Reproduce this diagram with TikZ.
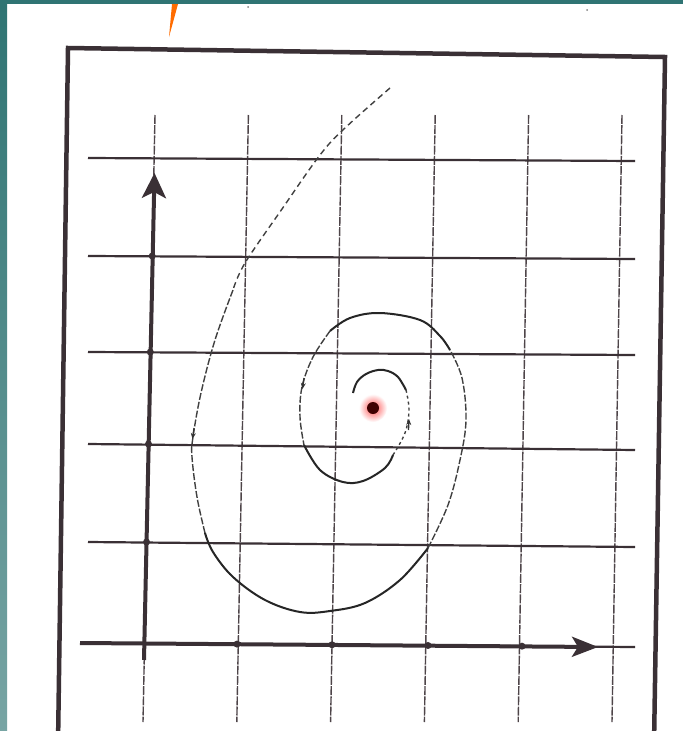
\documentclass[tikz,border=0pt]{standalone}
\usetikzlibrary{arrows.meta}
\definecolor{scanteal}{HTML}{2F7473}
\definecolor{ink}{HTML}{3A3035}
\begin{document}
\begin{tikzpicture}[x=1pt, y=-1pt,
    gridv/.style={ink!90, line width=1.4pt, dash pattern=on 9pt off 1.2pt},
    gridh/.style={ink, line width=2.2pt},
    axis/.style={ink, line width=4pt},
    orbit/.style={black!85, line width=2pt},
    faint/.style={black!75, line width=1.4pt, dash pattern=on 7pt off 2pt},
    tick/.style={circle, fill=ink, inner sep=0pt, minimum size=7pt}]
\useasboundingbox (0,0) rectangle (683,731);
\clip (0,0) rectangle (683,731);
\fill[white] (0,0) rectangle (683,731);
\fill[scanteal] (0,0) rectangle (683,4);
\shade[top color=scanteal, bottom color=scanteal!65!white] (0,4) rectangle (7,731);
\fill[orange!85!red] (172,4) -- (178,4) -- (169,37) -- cycle;
\fill[black!50] (248,7) circle (1pt) (587,10) circle (1pt);
% frame
\draw[ink, line width=4.5pt] (58,745) -- (68,48) -- (665,57) -- (654,745);
% grid
\foreach \i in {0,...,5}
  \draw[gridv] ({155+93.4*\i},115) -- ({143+93.8*\i},722);
\foreach \yl/\yr in {158/161, 256/259, 352/355, 444/450, 542/547, 643/647}
  \draw[gridh] (88,\yl) -- (635,\yr);
% axes
\draw[axis, -{Stealth[length=25pt, width=24pt, inset=6pt]}] (144,660) -- (154.5,173);
\draw[axis, -{Stealth[length=26pt, width=20pt, inset=6pt]}] (80,643) -- (598,647);
\foreach \y [count=\k] in {256,352,444,542}
  \node[tick] (ty\k) at ({155-12*(\y-115)/607},\y) {};
\foreach \x [count=\k] in {237,332,428,522}
  \node[tick] (tx\k) at (\x,{643+4*(\x-88)/547}) {};
% spiral
\draw[faint, dash pattern=on 6pt off 4pt] plot[smooth, tension=0.6] coordinates {(390,88) (345,128) (320,155) (282,209) (245,263) (233,290)};
\draw[faint] plot[smooth, tension=0.6] coordinates {(233,290) (215,340) (201,393) (193,437) (192,457) (197,497) (205,533)};
\draw[orbit] plot[smooth, tension=0.6] coordinates {(205,533) (213,552) (233,577) (265,600) (300,612) (330,611) (365,603) (400,580) (428,548)};
\draw[faint] plot[smooth, tension=0.6] coordinates {(428,548) (448,505) (460,460) (466,420) (462,378) (450,350)};
\draw[orbit] plot[smooth, tension=0.6] coordinates {(450,350) (440,336) (420,320) (380,313) (350,318) (330,331)};
\draw[faint] plot[smooth, tension=0.6] coordinates {(330,331) (313,357) (302,387) (300,417) (304,445)};
\draw[orbit] plot[smooth, tension=0.6] coordinates {(304,445) (320,470) (343,482) (363,481) (385,468) (393,455)};
\draw[faint, dash pattern=on 3pt off 3pt] plot[smooth, tension=0.6] coordinates {(393,455) (405,433) (409,410) (406,390)};
\draw[orbit] plot[smooth, tension=0.6] coordinates {(406,390) (398,377) (388,371) (378,370) (366,374) (357,382) (353,393)};
\draw[black!80, line width=1.3pt, -{Stealth[length=6pt, width=5pt]}] (194,428) -- (192.5,439);
\draw[black!80, line width=1.3pt, -{Stealth[length=6pt, width=5pt]}] (304,378) -- (302.5,389);
\draw[black!80, line width=1.3pt, -{Stealth[length=6pt, width=5pt]}] (408.5,430) -- (409,419);
% equilibrium
\shade[inner color=red!70, outer color=white] (373,408) circle (14pt);
\node[circle, fill=black!75!red, inner sep=0pt, minimum size=12pt] (eq) at (373,408) {};
\end{tikzpicture}
\end{document}
